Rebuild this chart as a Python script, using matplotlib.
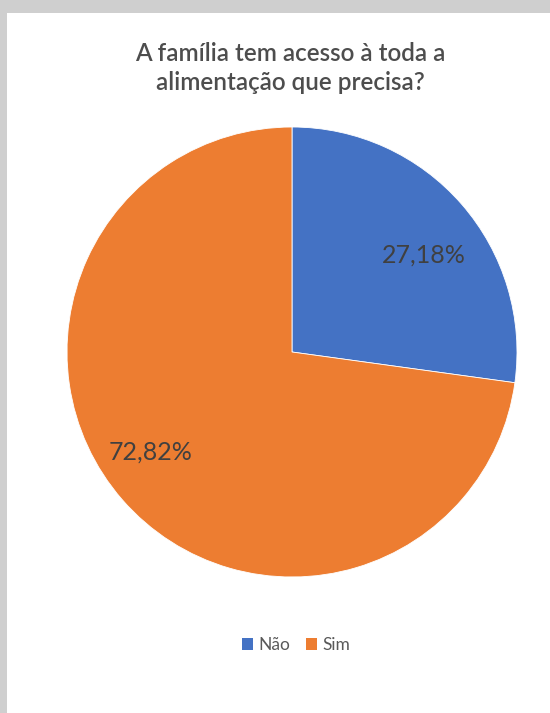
import matplotlib
matplotlib.use("Agg")
import matplotlib.pyplot as plt
from matplotlib.patches import Rectangle, Patch

plt.rcParams['font.family'] = ['Lato', 'DejaVu Sans']

# Survey answers and their shares (%)
categories = ["Não", "Sim"]
shares = [27.18, 72.82]
colors = ["#4472C4", "#ED7D31"]
title = "A família tem acesso à toda a\nalimentação que precisa?"

W, H = 550, 713
fig = plt.figure(figsize=(W / 100, H / 100), dpi=100)
fig.patch.set_facecolor("white")

# grey frame strips along the top and left edges
fig.add_artist(Rectangle((0, 1 - 13 / H), 1, 13 / H, transform=fig.transFigure,
                         facecolor="#cfcfcf", edgecolor="none", zorder=0))
fig.add_artist(Rectangle((0, 0), 7 / W, 1, transform=fig.transFigure,
                         facecolor="#cfcfcf", edgecolor="none", zorder=0))

# pie: centre (292, 352) px, radius 225 px
cx, cy, r = 292, 352, 225
ax = fig.add_axes([(cx - r) / W, (H - cy - r) / H, 2 * r / W, 2 * r / H])


def fmt(p):
    return f"{p:.2f}".replace(".", ",") + "%"


wedges, texts, autotexts = ax.pie(
    shares, colors=colors, startangle=90, counterclock=False,
    autopct=fmt, pctdistance=0.75,
    wedgeprops=dict(edgecolor="white", linewidth=0.6),
    textprops=dict(color="#404040", fontsize=18),
)
ax.set_xlim(-1, 1)
ax.set_ylim(-1, 1)
ax.set_aspect("equal")
ax.axis("off")

# label positions (fractions of the radius)
autotexts[0].set_position((132 / r, 97 / r))
autotexts[1].set_position((-141 / r, -100 / r))

fig.text(290 / W, 1 - 68 / H, title, ha="center", va="center",
         fontsize=17.5, fontweight="semibold", color="#4d4d4d",
         linespacing=1.3)

handles = [Patch(facecolor=c, edgecolor="none") for c in colors]
fig.legend(handles, categories, loc="center",
           bbox_to_anchor=(296 / W, 1 - 645 / H), ncol=2, frameon=False,
           handlelength=0.65, handleheight=0.65, handletextpad=0.3,
           columnspacing=0.9, prop=dict(size=12.5), labelcolor="#595959")

fig.savefig("out.png", dpi=100)
